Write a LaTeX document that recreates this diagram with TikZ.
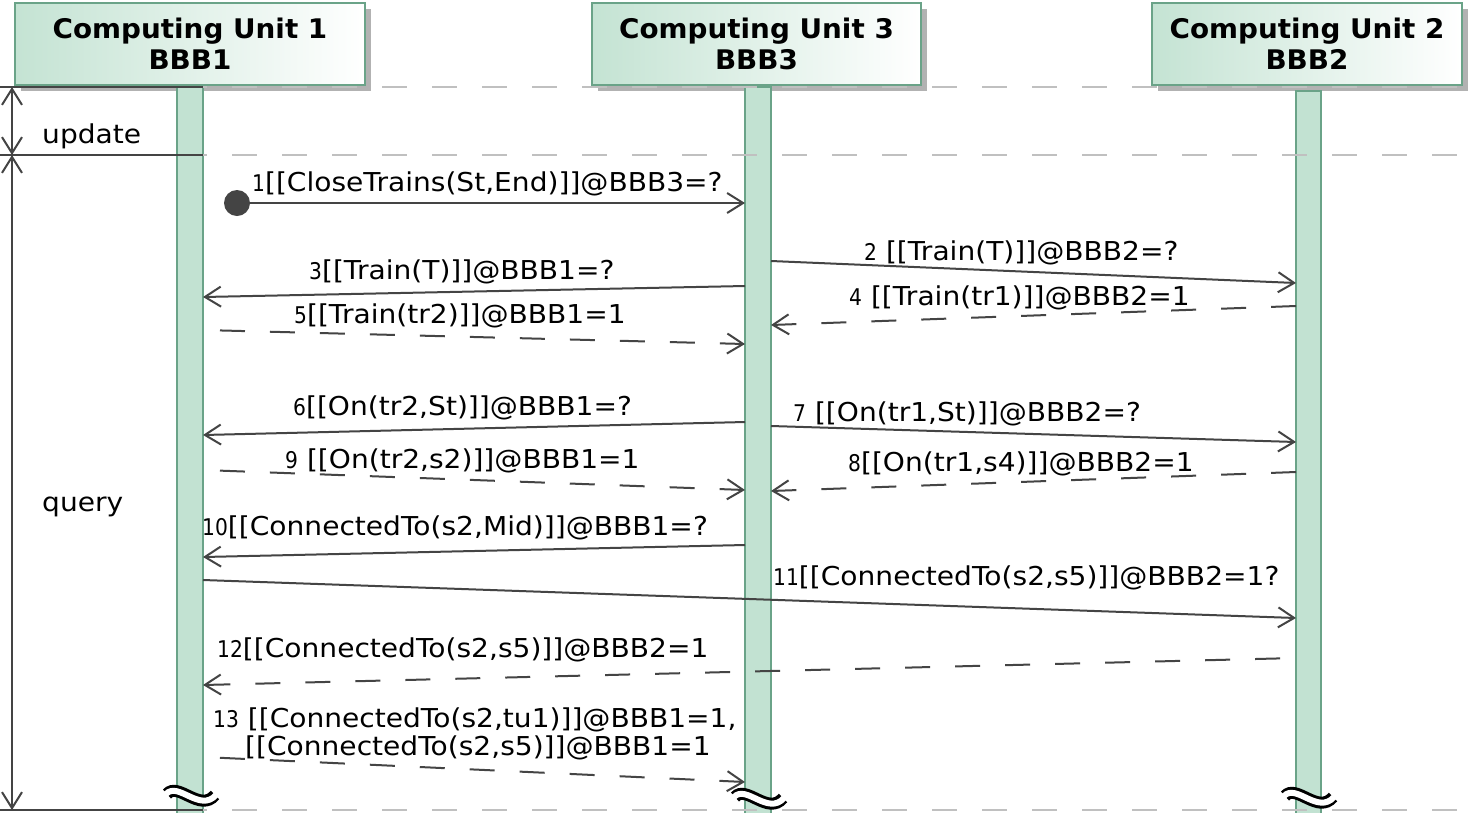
\documentclass[tikz,border=0pt]{standalone}
\usepackage{fontspec}
\setmainfont{DejaVu Sans}[FakeStretch=1.08]
\newfontfamily\numfont{DejaVu Sans}[FakeStretch=0.88]
\newfontfamily\hdrfont{DejaVu Sans}[FakeStretch=1.03]
\usetikzlibrary{arrows.meta,shadows}

\definecolor{barfill}{RGB}{194,226,210}
\definecolor{barline}{RGB}{106,163,136}
\definecolor{hdrleft}{RGB}{196,227,211}
\definecolor{ink}{RGB}{68,68,68}
\definecolor{sepgray}{RGB}{192,192,192}
\definecolor{shadowgray}{RGB}{178,178,178}

\newcommand\msgnum[1]{{\numfont\fontsize{23}{23}\selectfont #1}}

\tikzset{
  msgtxt/.style={font=\fontsize{26}{30}\selectfont, inner sep=0pt, anchor=base west, text=black},
  msg/.style={draw=ink, line width=2pt, -{Straight Barb[length=16pt,width=20pt]}},
  reply/.style={msg, dash pattern=on 25pt off 25pt},
  sep/.style={draw=sepgray, line width=2.5pt, dash pattern=on 25pt off 25pt, dash phase=21pt},
  hdr/.style={draw=barline, line width=2pt, left color=hdrleft, right color=white,
    minimum height=82pt, inner sep=0pt, align=center,
    font=\hdrfont\bfseries\fontsize{27}{31}\selectfont,
    drop shadow={shadow xshift=6pt, shadow yshift=-6pt, fill=shadowgray, opacity=1}},
  bar/.style={draw=barline, fill=barfill, line width=2pt},
  span/.style={draw=ink, line width=2pt,
    {Straight Barb[length=16pt,width=20pt]}-{Straight Barb[length=16pt,width=20pt]}},
  brk/.pic={
    \draw[black, line width=12pt] (-24,-1) .. controls (-13,-14) and (9,18) .. (24,0);
    \draw[white, line width=6pt] (-25,-1) .. controls (-13,-14) and (9,18) .. (25,0);
  }
}

\begin{document}
\begin{tikzpicture}[x=1pt, y=-1pt]
\clip (0,0) rectangle (1474,812);
\fill[white] (0,0) rectangle (1474,812);

% headers
\node[hdr, minimum width=350pt] (h1) at (190,44) {Computing Unit 1\\BBB1};
\node[hdr, minimum width=329pt] (h3) at (756.5,44) {Computing Unit 3\\BBB3};
\node[hdr, minimum width=310pt] (h2) at (1307,44) {Computing Unit 2\\BBB2};

% activation bars
\draw[bar] (177,87) rectangle (203,830);
\draw[bar] (745,87) rectangle (771,830);
\draw[bar] (1296,91) rectangle (1321,830);

% separators
\draw[sep] (203,87) -- (1474,87);
\draw[sep] (203,155) -- (1474,155);
\draw[sep] (203,810) -- (1474,810);

% left span annotation
\coordinate (t0) at (12,87);
\coordinate (t1) at (12,155);
\coordinate (t2) at (12,810);
\draw[ink, line width=2pt] (0,87) -- (203,87);
\draw[ink, line width=2pt] (0,155) -- (203,155);
\draw[ink, line width=2pt] (0,810) -- (203,810);
\draw[span] (t0) -- (t1);
\draw[span] (t1) -- (t2);
\node[msgtxt] (upd) at (42,143) {update};
\node[msgtxt] (qry) at (42,511) {query};

% message end points
\coordinate (m1s) at (237,203);  \coordinate (m1e) at (745,203);
\coordinate (m2s) at (771,261);  \coordinate (m2e) at (1296,283);
\coordinate (m3s) at (745,286);  \coordinate (m3e) at (203,297);
\coordinate (m4s) at (1296,306); \coordinate (m4e) at (771,325);
\coordinate (m5s) at (203,330);  \coordinate (m5e) at (745,344);
\coordinate (m6s) at (745,422);  \coordinate (m6e) at (203,435);
\coordinate (m7s) at (771,426);  \coordinate (m7e) at (1296,442);
\coordinate (m8s) at (1296,472); \coordinate (m8e) at (771,491);
\coordinate (m9s) at (203,470);  \coordinate (m9e) at (745,490);
\coordinate (m10s) at (745,545); \coordinate (m10e) at (203,557);
\coordinate (m11s) at (203,580); \coordinate (m11e) at (1296,618);
\coordinate (m12s) at (1296,658);\coordinate (m12e) at (203,685);
\coordinate (m13s) at (203,757); \coordinate (m13e) at (745,782);

% messages
\fill[ink] (m1s) circle[radius=13pt];
\draw[msg] (m1s) -- (m1e);
\draw[msg] (m2s) -- (m2e);
\draw[msg] (m3s) -- (m3e);
\draw[reply] (m4s) -- (m4e);
\draw[reply, dash phase=33pt] (m5s) -- (m5e);
\draw[msg] (m6s) -- (m6e);
\draw[msg] (m7s) -- (m7e);
\draw[reply] (m8s) -- (m8e);
\draw[reply, dash phase=33pt] (m9s) -- (m9e);
\draw[msg] (m10s) -- (m10e);
\draw[msg] (m11s) -- (m11e);
\draw[reply, dash phase=34pt] (m12s) -- (m12e);
\draw[reply, dash phase=33pt] (m13s) -- (m13e);

% labels
\node[msgtxt] (l1) at (252,191) {\msgnum{1}[[CloseTrains(St,End)]]@BBB3=?};
\node[msgtxt] (l2) at (864,260) {\msgnum{2} [[Train(T)]]@BBB2=?};
\node[msgtxt] (l3) at (309,279) {\msgnum{3}[[Train(T)]]@BBB1=?};
\node[msgtxt] (l4) at (849,305) {\msgnum{4} [[Train(tr1)]]@BBB2=1};
\node[msgtxt] (l5) at (294,323) {\msgnum{5}[[Train(tr2)]]@BBB1=1};
\node[msgtxt] (l6) at (293,415) {\msgnum{6}[[On(tr2,St)]]@BBB1=?};
\node[msgtxt] (l7) at (793,421) {\msgnum{7} [[On(tr1,St)]]@BBB2=?};
\node[msgtxt] (l8) at (848,471) {\msgnum{8}[[On(tr1,s4)]]@BBB2=1};
\node[msgtxt] (l9) at (285,468) {\msgnum{9} [[On(tr2,s2)]]@BBB1=1};
\node[msgtxt] (l10) at (202,535) {\msgnum{10}[[ConnectedTo(s2,Mid)]]@BBB1=?};
\node[msgtxt] (l11) at (773,585) {\msgnum{11}[[ConnectedTo(s2,s5)]]@BBB2=1?};
\node[msgtxt] (l12) at (217,657) {\msgnum{12}[[ConnectedTo(s2,s5)]]@BBB2=1};
\node[msgtxt] (l13a) at (213,727) {\msgnum{13} [[ConnectedTo(s2,tu1)]]@BBB1=1,};
\node[msgtxt] (l13b) at (245,755) {[[ConnectedTo(s2,s5)]]@BBB1=1};

% lifeline breaks
\pic at (191,795) {brk};
\pic at (759,798) {brk};
\pic at (1309,797) {brk};
\end{tikzpicture}
\end{document}
